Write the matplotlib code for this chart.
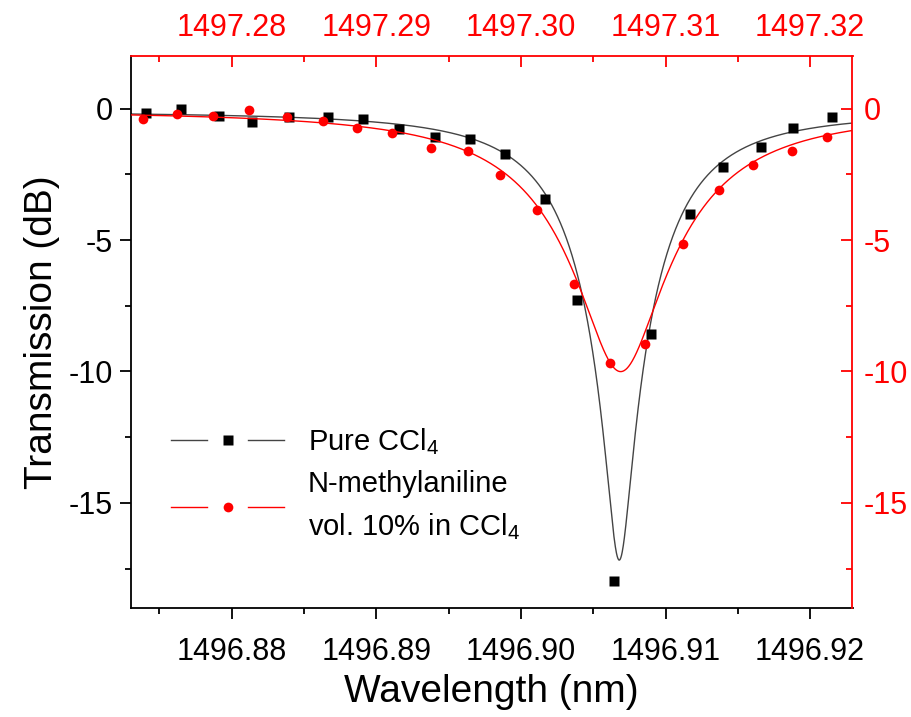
import numpy as np
import matplotlib
matplotlib.use("Agg")
import matplotlib.pyplot as plt
from matplotlib.lines import Line2D
from matplotlib.legend_handler import HandlerBase
from matplotlib.ticker import MultipleLocator, FormatStrFormatter

plt.rcParams['font.family'] = ['Liberation Sans', 'DejaVu Sans']
plt.rcParams['mathtext.fontset'] = 'custom'
plt.rcParams['mathtext.rm'] = 'Liberation Sans'
plt.rcParams['mathtext.it'] = 'Liberation Sans:italic'
plt.rcParams['mathtext.bf'] = 'Liberation Sans:bold'
plt.rcParams['axes.unicode_minus'] = False

# ---------------- data ----------------
# Pure CCl4 (bottom / left axes)
pure_wl = [1496.87407, 1496.87647, 1496.87910, 1496.88140, 1496.88398, 1496.88668,
           1496.88910, 1496.89159, 1496.89406, 1496.89648, 1496.89890, 1496.90167,
           1496.90386, 1496.90646, 1496.90898, 1496.91169, 1496.91400, 1496.91658,
           1496.91884, 1496.92149]
pure_db = [-0.16, -0.03, -0.28, -0.51, -0.32, -0.32, -0.41, -0.79, -1.07, -1.17,
           -1.74, -3.43, -7.30, -17.99, -8.57, -4.00, -2.23, -1.45, -0.75, -0.33]

# N-methylaniline 10% in CCl4 (top / right axes)
mix_wl = [1497.27385, 1497.27620, 1497.27869, 1497.28118, 1497.28380, 1497.28629,
          1497.28869, 1497.29111, 1497.29378, 1497.29636, 1497.29858, 1497.30109,
          1497.30369, 1497.30618, 1497.30856, 1497.31119, 1497.31368, 1497.31607,
          1497.31877, 1497.32119]
mix_db = [-0.41, -0.22, -0.28, -0.06, -0.33, -0.47, -0.75, -0.94, -1.50, -1.61,
          -2.52, -3.86, -6.66, -9.68, -8.94, -5.16, -3.08, -2.14, -1.60, -1.09]

# Lorentzian fit parameters (center, half-width, dip depth, baseline dB)
pure_fit = dict(center=1496.9068, hw=0.00539, depth=0.9804, base=-0.10)
mix_fit = dict(center=1497.3069, hw=0.0076, depth=0.899, base=-0.05)

labels = ["Pure CCl$_4$", "N-methylaniline\nvol. 10% in CCl$_4$"]
bottom_xlim = (1496.873036, 1496.922932)
top_offset = 0.4
ylim = (-19, 2)


def lorentz_db(x, p):
    L = p['hw'] ** 2 / ((x - p['center']) ** 2 + p['hw'] ** 2)
    return p['base'] + 10 * np.log10(1 - p['depth'] * L)


RED = '#ff0000'

fig = plt.figure(figsize=(9.12, 7.17), dpi=100)
pos = [131 / 912, 1 - 608 / 717, (852.5 - 131) / 912, (608 - 56) / 717]
ax = fig.add_axes(pos)
ax2 = fig.add_axes(pos, facecolor='none')

# pure CCl4
xf = np.linspace(bottom_xlim[0], bottom_xlim[1], 2000)
l1, = ax.plot(xf, lorentz_db(xf, pure_fit), color='#444444', lw=1.0)
m1, = ax.plot(pure_wl, pure_db, 's', color='black', ms=6.5, mec='none')

# mixture
xt = np.linspace(bottom_xlim[0] + top_offset, bottom_xlim[1] + top_offset, 2000)
l2, = ax2.plot(xt, lorentz_db(xt, mix_fit), color=RED, lw=1.0)
m2, = ax2.plot(mix_wl, mix_db, 'o', color=RED, ms=7, mec='none')

ax.set_xlim(*bottom_xlim)
ax.set_ylim(*ylim)
ax2.set_xlim(bottom_xlim[0] + top_offset, bottom_xlim[1] + top_offset)
ax2.set_ylim(*ylim)

# bottom/left axes (black)
ax.spines['top'].set_visible(False)
ax.spines['right'].set_visible(False)
for s in ['bottom', 'left']:
    ax.spines[s].set_linewidth(1.3)
ax.xaxis.set_major_locator(MultipleLocator(0.01))
ax.xaxis.set_minor_locator(MultipleLocator(0.005))
ax.xaxis.set_major_formatter(FormatStrFormatter('%.2f'))
ax.yaxis.set_major_locator(MultipleLocator(5))
ax.yaxis.set_minor_locator(MultipleLocator(2.5))
ax.tick_params(which='both', direction='out', width=1.3, labelsize=22, top=False, right=False)
ax.tick_params(which='major', length=8)
ax.tick_params(which='minor', length=4.5)
ax.tick_params(axis='x', pad=13)
ax.tick_params(axis='y', pad=5)
ax.set_xlabel('Wavelength (nm)', fontsize=28, labelpad=5)
ax.set_ylabel('Transmission (dB)', fontsize=28, labelpad=6)

# top/right axes (red)
ax2.spines['bottom'].set_visible(False)
ax2.spines['left'].set_visible(False)
for s in ['top', 'right']:
    ax2.spines[s].set_color(RED)
    ax2.spines[s].set_linewidth(1.3)
ax2.xaxis.tick_top()
ax2.yaxis.tick_right()
ax2.xaxis.set_major_locator(MultipleLocator(0.01))
ax2.xaxis.set_minor_locator(MultipleLocator(0.005))
ax2.xaxis.set_major_formatter(FormatStrFormatter('%.2f'))
ax2.yaxis.set_major_locator(MultipleLocator(5))
ax2.yaxis.set_minor_locator(MultipleLocator(2.5))
ax2.tick_params(which='both', direction='in', width=1.3, colors=RED, labelsize=22,
                bottom=False, left=False, top=True, right=True)
ax2.tick_params(which='major', length=8)
ax2.tick_params(which='minor', length=4.5)
ax2.tick_params(axis='x', pad=9)
ax2.tick_params(axis='y', pad=8)


class GapHandler(HandlerBase):
    def create_artists(self, legend, orig_handle, xdescent, ydescent, width, height,
                       fontsize, trans):
        line, marker = orig_handle
        y = height / 2 - ydescent
        x0 = -xdescent
        a = Line2D([x0, x0 + width * 0.32], [y, y], color=line.get_color(), lw=line.get_linewidth())
        b = Line2D([x0 + width * 0.68, x0 + width], [y, y], color=line.get_color(), lw=line.get_linewidth())
        m = Line2D([x0 + width / 2], [y], marker=marker.get_marker(), color=marker.get_color(),
                   ms=marker.get_markersize(), mec='none', linestyle='none')
        for art in (a, b, m):
            art.set_transform(trans)
        return [a, b, m]


leg = ax.legend([(l1, m1), (l2, m2)], labels, handler_map={tuple: GapHandler()},
                loc='upper left', bbox_to_anchor=(0.055, 0.33), frameon=False,
                fontsize=21, handlelength=3.9, handletextpad=0.8, labelspacing=0.45,
                borderpad=0, borderaxespad=0)
for t in leg.get_texts():
    t.set_linespacing(1.55)

fig.savefig('out.png', dpi=100)
